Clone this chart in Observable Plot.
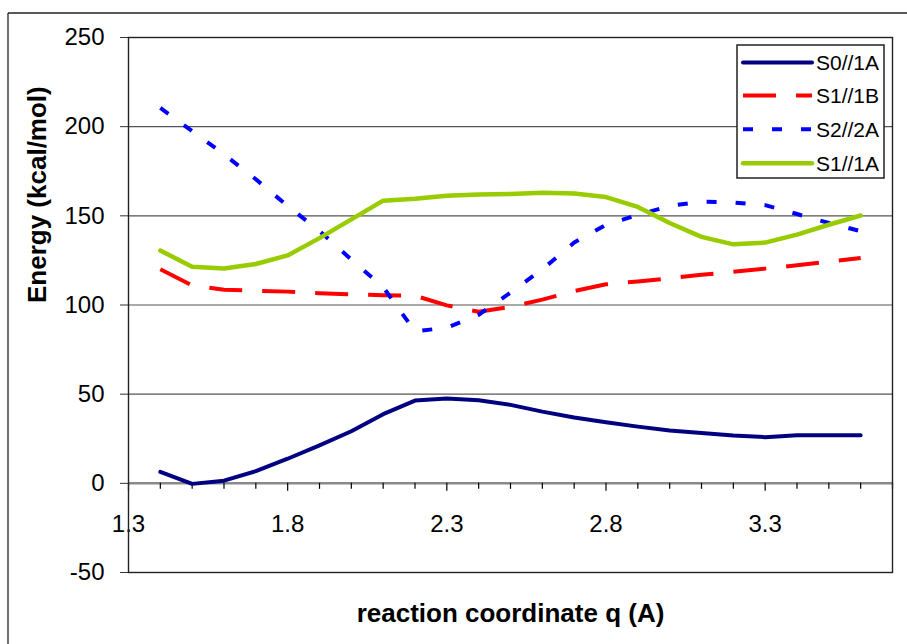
<!DOCTYPE html>
<html><head><meta charset="utf-8">
<script src="https://cdn.jsdelivr.net/npm/d3@7"></script>
<script src="https://cdn.jsdelivr.net/npm/@observablehq/plot@0.6"></script>
<style>body{margin:0;background:#fff} #chart{width:907px;height:644px;overflow:hidden}</style>
</head><body><div id="chart"></div>
<script>
// Reaction coordinate values (A)
const q = [1.4,1.5,1.6,1.7,1.8,1.9,2.0,2.1,2.2,2.3,2.4,2.5,2.6,2.7,2.8,2.9,3.0,3.1,3.2,3.3,3.4,3.5,3.6];
// Energies (kcal/mol)
const S0_1A = [6.4,-0.3,1.5,6.8,13.8,21.3,29.2,38.8,46.4,47.6,46.6,44,40.2,36.9,34.2,31.8,29.6,28.2,26.8,25.9,27,27,26.9];
const S1_1B = [120,111,108.5,108,107.5,106.6,106,105.5,105.2,99.8,96.2,99,103,107.8,111.6,113.2,115,116.9,118.7,120.4,122.3,124.3,126.4];
const S2_2A = [210.5,197.5,184.5,170.5,155.5,141.5,125.5,110,85.2,87.3,94.5,107,120,135,145,150.5,155.6,158,157.5,156,151,146,141.4];
const S1_1A = [130.5,121.5,120.5,123,127.8,137.5,148,158.5,159.6,161.2,162,162.3,163,162.5,160.5,155,146,138.2,134,135,139.5,145,150.2];
const seriesNames = ["S0//1A","S1//1B","S2//2A","S1//1A"];
const seriesColors = ["#000080","#FF0000","#0000FF","#99CC00"];
const seriesDash = [null,"33,20","10,19",null];
// Axis ticks
const xTicks = [1.3,1.4,1.5,1.6,1.7,1.8,1.9,2.0,2.1,2.2,2.3,2.4,2.5,2.6,2.7,2.8,2.9,3.0,3.1,3.2,3.3,3.4,3.5,3.6,3.7];
const xMajor = [1.3,1.8,2.3,2.8,3.3];
const xLabels = ["1.3","1.8","2.3","2.8","3.3"];
const yTicks = [-50,0,50,100,150,200,250];
const yGrid = [50,100,150,200,250];

const W = 907, H = 644;
const mL = 128, mR = 15, mT = 37, mB = 72;
const yDomain = [-50, 250];
const pxPerUnit = (H - mT - mB) / (yDomain[1] - yDomain[0]);
const minorLen = 6 / pxPerUnit, majorLen = 8 / pxPerUnit;

const allSeries = [S0_1A, S1_1B, S2_2A, S1_1A];
const lineMarks = allSeries.map((vals, k) =>
  Plot.line(q.map((x, i) => ({q: x, e: vals[i]})), {
    x: "q", y: "e",
    stroke: seriesColors[k],
    strokeWidth: k === 3 ? 4.5 : 4,
    strokeDasharray: seriesDash[k] || undefined,
    strokeLinecap: seriesDash[k] ? "butt" : "round",
    strokeLinejoin: "round"
  })
);

const svg = Plot.plot({
  width: W, height: H,
  marginLeft: mL, marginRight: mR, marginTop: mT, marginBottom: mB,
  style: {background: "white", fontFamily: "'Liberation Sans', Arial, Helvetica, sans-serif", overflow: "visible"},
  x: {domain: [1.3, 3.7], axis: null},
  y: {domain: yDomain, axis: null},
  marks: [
    Plot.ruleY(yGrid, {stroke: "#555", strokeWidth: 1.2}),
    Plot.ruleY([0], {stroke: "#8a8a8a", strokeWidth: 2.5}),
    Plot.ruleX(xTicks.filter(t => !xMajor.includes(t)), {x: d => d, y1: () => 0, y2: () => -minorLen, stroke: "black", strokeWidth: 1.2}),
    Plot.ruleX(xMajor, {x: d => d, y1: () => 0, y2: () => -majorLen, stroke: "black", strokeWidth: 1.2}),
    Plot.text(xMajor, {x: d => d, y: () => 0, dy: 41, text: (d, i) => xLabels[i], fontSize: 24, fill: "black"}),
    Plot.axisY({ticks: yTicks, tickSize: 8, tickPadding: 16, fontSize: 24, tickFormat: d => String(d), label: null, stroke: "#333", fill: "black"}),
    ...lineMarks,
    Plot.frame({stroke: "#222", strokeWidth: 1.4}),
    Plot.text(["Energy (kcal/mol)"], {frameAnchor: "left", dx: -91, dy: -2, rotate: -90, text: d => d, fontSize: 26, fontWeight: "bold", fill: "black"}),
    Plot.text(["reaction coordinate q (A)"], {frameAnchor: "bottom", dy: 49, text: d => d, fontSize: 26, fontWeight: "bold", fill: "black"})
  ]
});

const s = d3.select(svg);
// outer chart frame
s.append("line").attr("x1", 8).attr("y1", 13).attr("x2", W + 5).attr("y2", 13).attr("stroke", "#222").attr("stroke-width", 1.3);
s.append("line").attr("x1", 8).attr("y1", 13).attr("x2", 8).attr("y2", H + 5).attr("stroke", "#222").attr("stroke-width", 1.3);

// legend
const lg = s.append("g").attr("text-anchor", "start");
lg.append("rect").attr("x", 737).attr("y", 45).attr("width", 147).attr("height", 133)
  .attr("fill", "white").attr("stroke", "#222").attr("stroke-width", 1.5);
const rowY = [62.5, 95.5, 129.3, 163.3];
seriesNames.forEach((name, k) => {
  lg.append("line").attr("x1", 743).attr("x2", 812).attr("y1", rowY[k]).attr("y2", rowY[k])
    .attr("stroke", seriesColors[k]).attr("stroke-width", k === 3 ? 4.5 : 4)
    .attr("stroke-dasharray", seriesDash[k])
    .attr("stroke-linecap", seriesDash[k] ? "butt" : "round");
  lg.append("text").attr("x", 816).attr("y", rowY[k]).attr("dy", "0.36em")
    .attr("text-anchor", "start")
    .attr("font-size", 21).attr("fill", "black").text(name);
});

document.getElementById("chart").appendChild(svg);
</script>
</body></html>
